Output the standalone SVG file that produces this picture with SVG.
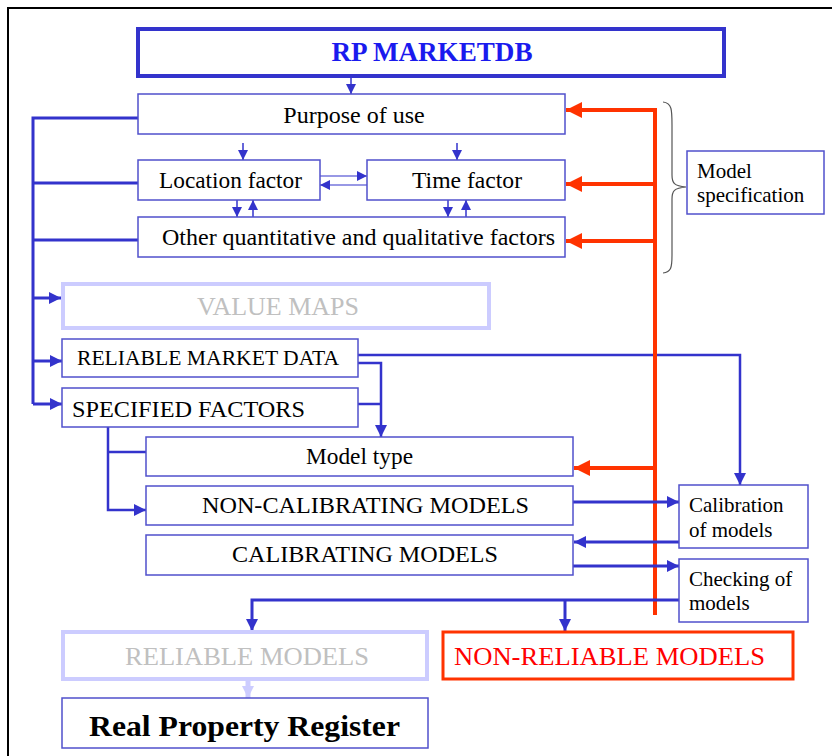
<svg xmlns="http://www.w3.org/2000/svg" width="832" height="756" viewBox="0 0 832 756">
<defs>
<style>
.box{fill:#fff;stroke:#5050cc;stroke-width:1.5}
.pale{fill:#fff;stroke:#ccccff;stroke-width:4}
.t{font-family:"Liberation Serif","Times New Roman",serif;fill:#000}
.c{text-anchor:middle}
.bl{fill:none;stroke:#3333cc}
.rd{fill:none;stroke:#ff3300;stroke-width:4}
</style>
<marker id="ab" viewBox="0 0 10 10" refX="10" refY="5" markerWidth="10" markerHeight="10" markerUnits="userSpaceOnUse" orient="auto"><path d="M0,0 L10,5 L0,10z" fill="#3333cc"/></marker>
<marker id="abt" viewBox="0 0 10 10" refX="10" refY="5" markerWidth="14" markerHeight="12" markerUnits="userSpaceOnUse" orient="auto"><path d="M0,0 L10,5 L0,10z" fill="#3333cc"/></marker>
<marker id="ar" viewBox="0 0 10 10" refX="10" refY="5" markerWidth="16" markerHeight="16" markerUnits="userSpaceOnUse" orient="auto"><path d="M0,0 L10,5 L0,10z" fill="#ff3300"/></marker>
<marker id="ap" viewBox="0 0 10 10" refX="10" refY="5" markerWidth="12" markerHeight="14" markerUnits="userSpaceOnUse" orient="auto"><path d="M0,0 L10,5 L0,10z" fill="#ccccff"/></marker>
</defs>
<rect x="8" y="8" width="830" height="760" fill="#fff" stroke="#000" stroke-width="2"/>

<g id="connectors">
<!-- top -->
<line class="bl" x1="351" y1="77" x2="351" y2="94" stroke-width="1.5" marker-end="url(#ab)"/>
<line class="bl" x1="243" y1="143" x2="243" y2="160" stroke-width="1.5" marker-end="url(#ab)"/>
<line class="bl" x1="457" y1="143" x2="457" y2="160" stroke-width="1.5" marker-end="url(#ab)"/>
<line class="bl" x1="320" y1="176" x2="367" y2="176" stroke-width="1.2" marker-end="url(#ab)"/>
<line class="bl" x1="367" y1="185" x2="320" y2="185" stroke-width="1.2" marker-end="url(#ab)"/>
<line class="bl" x1="237" y1="200" x2="237" y2="217" stroke-width="1.5" marker-end="url(#ab)"/>
<line class="bl" x1="253" y1="217" x2="253" y2="200" stroke-width="1.5" marker-end="url(#ab)"/>
<line class="bl" x1="448" y1="200" x2="448" y2="217" stroke-width="1.5" marker-end="url(#ab)"/>
<line class="bl" x1="466" y1="217" x2="466" y2="200" stroke-width="1.5" marker-end="url(#ab)"/>
<!-- left trunk -->
<polyline class="bl" points="138,118 33,118 33,404" stroke-width="3"/>
<line class="bl" x1="33" y1="183" x2="138" y2="183" stroke-width="3"/>
<line class="bl" x1="33" y1="240" x2="138" y2="240" stroke-width="3"/>
<line class="bl" x1="33" y1="298" x2="61" y2="298" stroke-width="3" marker-end="url(#abt)"/>
<line class="bl" x1="33" y1="361" x2="62" y2="361" stroke-width="3" marker-end="url(#abt)"/>
<line class="bl" x1="33" y1="404" x2="62" y2="404" stroke-width="3" marker-end="url(#abt)"/>
<!-- market data -->
<polyline class="bl" points="358,355 740,355 740,485" stroke-width="2.5" marker-end="url(#abt)"/>
<polyline class="bl" points="358,363 381,363 381,437" stroke-width="2.5" marker-end="url(#abt)"/>
<line class="bl" x1="358" y1="404" x2="381" y2="404" stroke-width="2.5"/>
<!-- specified factors to model type -->
<polyline class="bl" points="108,427 108,510 146,510" stroke-width="2.5" marker-end="url(#abt)"/>
<line class="bl" x1="108" y1="452" x2="146" y2="452" stroke-width="2.5"/>
<!-- red -->
<line class="rd" x1="655" y1="108" x2="655" y2="615"/>
<line class="rd" x1="657" y1="110" x2="566" y2="110" marker-end="url(#ar)"/>
<line class="rd" x1="655" y1="184" x2="566" y2="184" marker-end="url(#ar)"/>
<line class="rd" x1="655" y1="241" x2="566" y2="241" marker-end="url(#ar)"/>
<line class="rd" x1="655" y1="468" x2="574" y2="468" marker-end="url(#ar)"/>
<!-- calibration -->
<line class="bl" x1="573" y1="502" x2="679" y2="502" stroke-width="3" marker-end="url(#abt)"/>
<line class="bl" x1="679" y1="542" x2="574" y2="542" stroke-width="3" marker-end="url(#abt)"/>
<line class="bl" x1="573" y1="566" x2="679" y2="566" stroke-width="3" marker-end="url(#abt)"/>
<polyline class="bl" points="679,600 252,600 252,631" stroke-width="3" marker-end="url(#abt)"/>
<line class="bl" x1="565" y1="600" x2="565" y2="631" stroke-width="3" marker-end="url(#abt)"/>
<line x1="248" y1="681" x2="248" y2="698" stroke="#ccccff" stroke-width="5" marker-end="url(#ap)"/>
<!-- brace -->
<path d="M663,102 C672,103 672,110 672,125 L672,175 C672,183 674,186 686,187 C674,188 672,191 672,199 L672,255 C672,268 671,272 663,273" fill="none" stroke="#555" stroke-width="1.2"/>
</g>

<g id="rp-marketdb"><rect x="138" y="29" width="586" height="47" fill="#fff" stroke="#3333cc" stroke-width="4"/><text class="t c" x="432" y="61" font-size="27" font-weight="bold" fill="#1a1aee" style="fill:#1a1aee" textLength="201" lengthAdjust="spacingAndGlyphs">RP MARKETDB</text></g>
<g id="purpose"><rect class="box" x="138" y="94" width="427" height="40"/><text class="t c" x="354" y="123" font-size="24">Purpose of use</text></g>
<g id="location"><rect class="box" x="138" y="160" width="182" height="40"/><text class="t" x="159" y="188" font-size="24" textLength="143" lengthAdjust="spacingAndGlyphs">Location factor</text></g>
<g id="time"><rect class="box" x="367" y="160" width="198" height="40"/><text class="t" x="412" y="188" font-size="24" textLength="110" lengthAdjust="spacingAndGlyphs">Time factor</text></g>
<g id="other"><rect class="box" x="138" y="217" width="427" height="40"/><text class="t" x="162" y="245" font-size="24" textLength="393" lengthAdjust="spacingAndGlyphs">Other quantitative and qualitative factors</text></g>
<g id="model-spec"><rect class="box" x="687" y="151" width="137" height="63"/><text class="t" x="697" y="178" font-size="21">Model</text><text class="t" x="697" y="202" font-size="21">specification</text></g>
<g id="value-maps"><rect class="pale" x="63" y="284" width="426" height="44"/><text class="t c" x="278" y="315" font-size="26" style="fill:#c0c0c0">VALUE MAPS</text></g>
<g id="market-data"><rect class="box" x="62" y="339" width="296" height="38"/><text class="t" x="77" y="365" font-size="21" textLength="262" lengthAdjust="spacingAndGlyphs">RELIABLE MARKET DATA</text></g>
<g id="spec-factors"><rect class="box" x="62" y="388" width="296" height="39"/><text class="t" x="72" y="417" font-size="24" textLength="233" lengthAdjust="spacingAndGlyphs">SPECIFIED FACTORS</text></g>
<g id="model-type"><rect class="box" x="146" y="437" width="427" height="39"/><text class="t" x="306" y="464" font-size="24" textLength="107" lengthAdjust="spacingAndGlyphs">Model type</text></g>
<g id="non-calibrating"><rect class="box" x="146" y="486" width="427" height="39"/><text class="t" x="202" y="513" font-size="24" textLength="327" lengthAdjust="spacingAndGlyphs">NON-CALIBRATING MODELS</text></g>
<g id="calibrating"><rect class="box" x="146" y="535" width="427" height="40"/><text class="t" x="232" y="562" font-size="24" textLength="266" lengthAdjust="spacingAndGlyphs">CALIBRATING MODELS</text></g>
<g id="calibration"><rect class="box" x="679" y="485" width="129" height="63"/><text class="t" x="689" y="512" font-size="21">Calibration</text><text class="t" x="689" y="537" font-size="21">of models</text></g>
<g id="checking"><rect class="box" x="679" y="559" width="129" height="63"/><text class="t" x="689" y="586" font-size="21">Checking of</text><text class="t" x="689" y="610" font-size="21">models</text></g>
<g id="reliable-models"><rect class="pale" x="63" y="632" width="364" height="47"/><text class="t" x="125" y="665" font-size="26" style="fill:#c0c0c0" textLength="244" lengthAdjust="spacingAndGlyphs">RELIABLE MODELS</text></g>
<g id="non-reliable"><rect x="443" y="632" width="350" height="47" fill="#fff" stroke="#ff3300" stroke-width="3"/><text class="t" x="454" y="665" font-size="26" style="fill:#ff0000" textLength="311" lengthAdjust="spacingAndGlyphs">NON-RELIABLE MODELS</text></g>
<g id="rpr"><rect class="box" x="62" y="698" width="366" height="50"/><text class="t" x="89" y="736" font-size="30" font-weight="bold" textLength="311" lengthAdjust="spacingAndGlyphs">Real Property Register</text></g>
</svg>
